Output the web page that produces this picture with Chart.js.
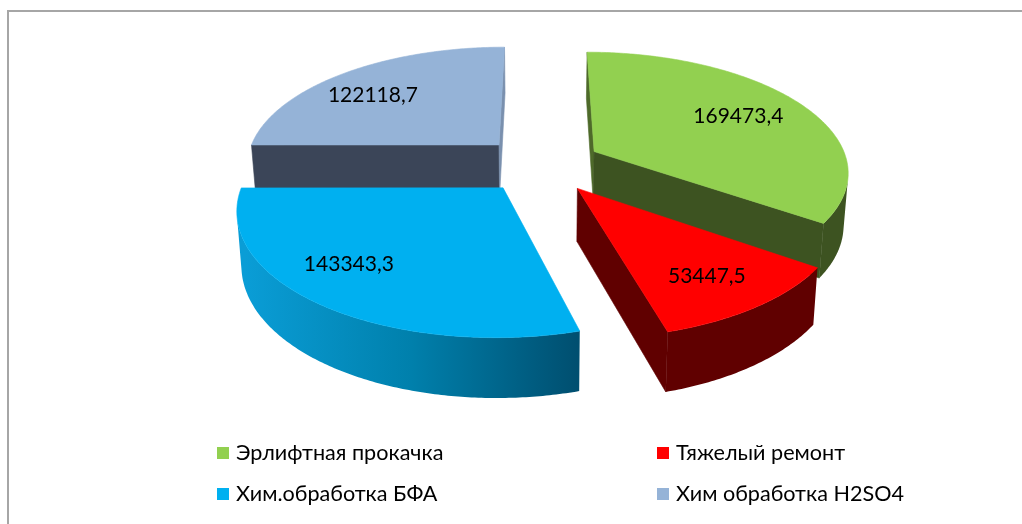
<!DOCTYPE html>
<html><head><meta charset="utf-8">
<style>html,body{margin:0;padding:0;background:#fff}#w{position:relative;width:1022px;height:524px}canvas{display:block;filter:blur(0.4px)}</style>
<script src="https://cdn.jsdelivr.net/npm/chart.js@4"></script>
</head><body><div id="w"><canvas id="c" width="1022" height="524"></canvas></div>
<script>
const categories = ['Эрлифтная прокачка','Тяжелый ремонт','Хим.обработка БФА','Хим обработка H2SO4'];
const values = [169473.4, 53447.5, 143343.3, 122118.7];
const valueLabels = ['169473,4','53447,5','143343,3','122118,7'];
const topColors = ['#92d050','#ff0000','#00b0f0','#95b3d7'];

const P = {cx:541, cy:164.5, A:254, B:118.5, p:0.155, e:0.24};
const wallColors = ['#3d5321','#600000',null,'#3b4558'];
const startFace = ['#4e6a2a','#600000','#005070','#3b4558'];
const endFace = ['#3d5321','#600000','#005070','#7a90ae'];
const labelFrac = [0.7,0.7,0.7,0.7];
const labelNudge = [[-1,0],[9,9],[-29,-1],[-15,2]];
const FONT = 'Lato, "Open Sans", sans-serif';

function proj(u,v){const w=1-P.p*v;return [P.cx+P.A*u/w,P.cy+P.B*v/w];}
function low(pt){return [P.cx+(pt[0]-P.cx)*0.985, pt[1]+53+(pt[1]-190)*0.05];}
function geom(a){
  const mid=(a.startAngle+a.endAngle)/2;
  const u0=P.e*Math.cos(mid),v0=P.e*Math.sin(mid);
  const at=(ang,f)=>proj(u0+f*Math.cos(ang),v0+f*Math.sin(ang));
  return {mid,u0,v0,at};
}
function area(pts){let s=0;pts.forEach((q,i)=>{const r=pts[(i+1)%pts.length];s+=q[0]*r[1]-r[0]*q[1];});return s;}
function trace(ctx,pts){pts.forEach((q,i)=>i?ctx.lineTo(q[0],q[1]):ctx.moveTo(q[0],q[1]));ctx.closePath();}
function paint(ctx,fill){ctx.fillStyle=fill;ctx.strokeStyle=fill;ctx.lineWidth=0.6;ctx.fill('nonzero');ctx.stroke();}
function poly(ctx,pts,fill){ctx.beginPath();trace(ctx,pts);paint(ctx,fill);}
const pie3d = {
  id:'pie3d',
  beforeDatasetDraw(chart,args){
    const ctx=chart.ctx, arcs=args.meta.data;
    const order=arcs.map((a,i)=>i).sort((i,j)=>geom(arcs[i]).v0-geom(arcs[j]).v0);
    ctx.save();
    order.forEach(i=>{
      const a=arcs[i], g=geom(a), n=Math.max(8,Math.round((a.endAngle-a.startAngle)*90));
      const rim=[];for(let k=0;k<=n;k++)rim.push(g.at(a.startAngle+(a.endAngle-a.startAngle)*k/n,1));
      const apex=g.at(0,0);
      const sf=[apex,rim[0],low(rim[0]),low(apex)], ef=[apex,rim[n],low(rim[n]),low(apex)];
      if(area(sf)<0)poly(ctx,sf,startFace[i]);
      if(area(ef)>0)poly(ctx,ef,endFace[i]);
      let wall=wallColors[i];
      if(!wall){wall=ctx.createLinearGradient(245,0,577,0);wall.addColorStop(0,'#0a9dd6');wall.addColorStop(0.5,'#0080ac');wall.addColorStop(1,'#004f70');}
      ctx.beginPath();
      for(let k=0;k<n;k++){
        const q=[rim[k],rim[k+1],low(rim[k+1]),low(rim[k])];
        if(area(q)<0)trace(ctx,q);
      }
      ctx.fillStyle=wall;ctx.fill('nonzero');
      poly(ctx,[apex].concat(rim),a.options.backgroundColor);
    });
    ctx.restore();
    return false;
  },
  afterDraw(chart){
    const ctx=chart.ctx, arcs=chart.getDatasetMeta(0).data;
    ctx.save();
    ctx.fillStyle='#a6a6a6';
    ctx.fillRect(7,10,1015,2);ctx.fillRect(7,10,2,514);
    ctx.textBaseline='middle';ctx.textAlign='center';ctx.fillStyle='#000';ctx.font='21px '+FONT;
    arcs.forEach((a,i)=>{
      const g=geom(a), q=g.at(g.mid,labelFrac[i]);
      ctx.fillText(valueLabels[i],q[0]+labelNudge[i][0],q[1]+labelNudge[i][1]);
    });
    const lx=[217,657], ly=[453,494];
    ctx.textAlign='left';ctx.font='21.6px '+FONT;
    categories.forEach((c,i)=>{
      const x=lx[i%2], y=ly[i>>1];
      ctx.fillStyle=topColors[i];ctx.fillRect(x,y-6,12,12);
      ctx.fillStyle='#000';ctx.fillText(c,x+19,y);
    });
    ctx.restore();
  }
};
new Chart(document.getElementById('c'),{
  type:'pie',
  data:{labels:categories,datasets:[{data:values,backgroundColor:topColors,borderWidth:0}]},
  options:{responsive:false,animation:false,rotation:0,plugins:{legend:{display:false},tooltip:{enabled:false}}},
  plugins:[pie3d]
});
</script></body></html>
